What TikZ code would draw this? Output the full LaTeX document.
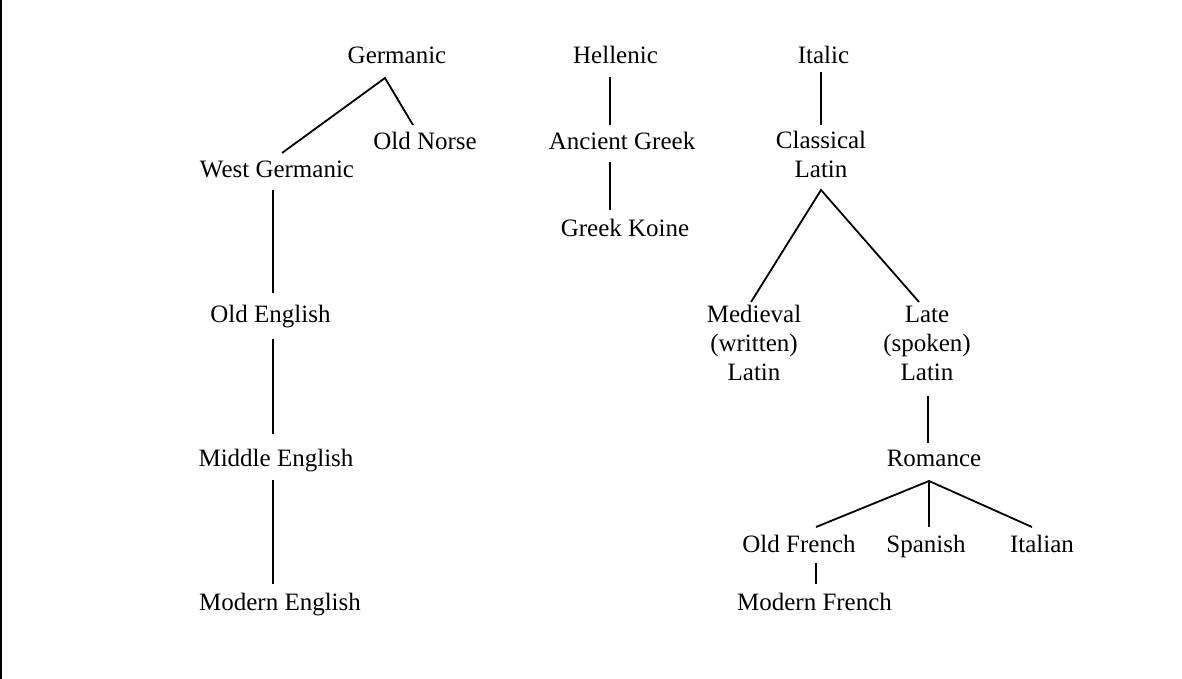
\documentclass[tikz,border=0pt]{standalone}
\usepackage{fontspec}
\setmainfont{Liberation Serif}
\usepackage{tikz}

\begin{document}
\begin{tikzpicture}[x=1pt, y=-1pt,
    lang/.style={font=\fontsize{25}{29}\selectfont, inner sep=0pt, anchor=base, align=center},
    branch/.style={line width=1.8pt}
  ]
  \useasboundingbox (0,0) rectangle (1182,679);
  \draw[line width=2pt] (1,0) -- (1,679);

  \node (Ger) [lang] at (397,64) {Germanic};
  \node (Hel) [lang] at (615.5,64) {Hellenic};
  \node (Ita) [lang] at (823.5,64) {Italic};
  \node (ON) [lang] at (425,150) {Old Norse};
  \node (WGer) [lang] at (277,178) {West Germanic};
  \node (AGr) [lang] at (622,150) {Ancient Greek};
  \node (CLat) [lang] at (821,178) {Classical\\Latin};
  \node (Koine) [lang] at (625,236) {Greek Koine};
  \node (OE) [lang] at (270.5,322) {Old English};
  \node (MLat) [lang] at (754,380) {Medieval\\(written)\\Latin};
  \node (LLat) [lang] at (927,380) {Late\\(spoken)\\Latin};
  \node (ME) [lang] at (276,466) {Middle English};
  \node (Rom) [lang] at (934,466) {Romance};
  \node (OF) [lang] at (799,552) {Old French};
  \node (Spa) [lang] at (926,552) {Spanish};
  \node (Ital) [lang] at (1042,552) {Italian};
  \node (ModE) [lang] at (280,610) {Modern English};
  \node (ModF) [lang] at (814.5,610) {Modern French};

  \draw[branch]
    ([shift={(5,-25)}]WGer.base) -- ([shift={(-12,14)}]Ger.base)
    -- ([shift={(-12,-25)}]ON.base)
  ;
  \draw[branch] ([shift={(-4,12)}]WGer.base) -- ([shift={(2.5,-29)}]OE.base);
  \draw[branch] ([shift={(2.5,17)}]OE.base) -- ([shift={(-3,-32)}]ME.base);
  \draw[branch] ([shift={(-3,14)}]ME.base) -- ([shift={(-7,-26)}]ModE.base);
  \draw[branch] ([shift={(-5.5,13)}]Hel.base) -- ([shift={(-12,-25)}]AGr.base);
  \draw[branch] ([shift={(-12,12)}]AGr.base) -- ([shift={(-15,-26)}]Koine.base);
  \draw[branch] ([shift={(-2.5,8)}]Ita.base) -- ([shift={(0,-53)}]CLat.base);
  \draw[branch]
    ([shift={(-3,-78)}]MLat.base) -- ([shift={(0,12)}]CLat.base)
    -- ([shift={(-8,-78)}]LLat.base)
  ;
  \draw[branch] ([shift={(1,16)}]LLat.base) -- ([shift={(-6,-23)}]Rom.base);
  \draw[branch]
    ([shift={(17,-25)}]OF.base) -- ([shift={(-5,15)}]Rom.base)
    -- ([shift={(-10,-25)}]Ital.base)
  ;
  \draw[branch] ([shift={(-5,15)}]Rom.base) -- ([shift={(3,-25)}]Spa.base);
  \draw[branch] ([shift={(17,11)}]OF.base) -- ([shift={(1.5,-26)}]ModF.base);
\end{tikzpicture}
\end{document}
